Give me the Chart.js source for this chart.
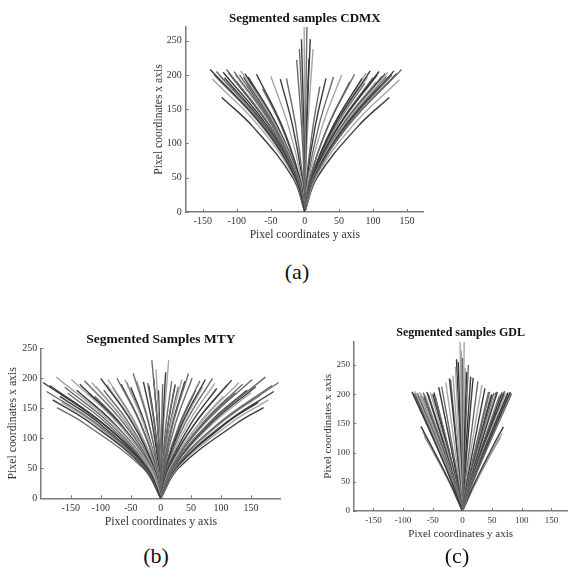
<!DOCTYPE html>
<html><head><meta charset="utf-8">
<script src="https://cdn.jsdelivr.net/npm/chart.js@4.4.1/dist/chart.umd.min.js"></script>
<style>
body{margin:0;background:#fff;width:568px;height:581px;position:relative;overflow:hidden;}
canvas{position:absolute;}
.lab{position:absolute;font-family:'Liberation Serif','Times New Roman',serif;font-size:22px;color:#111;transform:translate(-50%,-50%);line-height:1;white-space:nowrap;}
</style></head><body>
<canvas id="ca" width="284" height="245" style="left:140px;top:0px"></canvas>
<canvas id="cb" width="281" height="210" style="left:0px;top:320px"></canvas>
<canvas id="cc" width="258" height="235" style="left:310px;top:310px"></canvas>
<div class="lab" style="left:297px;top:272px">(a)</div>
<div class="lab" style="left:156px;top:556px">(b)</div>
<div class="lab" style="left:457px;top:556px">(c)</div>
<script>
// Each curve: origin, x read where it crosses lowY, x read where it crosses highY, end point.
// (a) CDMX
const cdmxLowY = 50, cdmxHighY = 125;
const cdmxEndX = [-139,-136,-122,-130,-126,-120,-115,-112,-108,-104,-100,-96,-94,-90,-86,-83,-76,-71,-62,-50,-36,-27, -8,-5,-1,3,8,12,-12,6, 142,139,124,131,128,122,118,113,109,104,100,96,92,88,84,80,73,66,54,42,31,22, -133,-118,-102,-88,135,120,106,90];
const cdmxEndY = [208,194,167,205,200,204,208,203,198,205,190,200,206,197,186,197,185,201,180,198,194,195, 238,252,270,270,252,238,222,224, 208,193,167,206,200,204,202,198,205,190,196,206,197,188,195,183,201,190,200,197,195,183, 200,196,200,202,202,198,200,203];
const cdmxLowX = [-14.2,-15.5,-17.7,-13.6,-13.7,-12.7,-11.8,-11.9,-11.9,-10.9,-11.8,-10.5,-9.8,-10,-10.5,-9.3,-9.4,-7.7,-8,-5.5,-4.1,-3.1, -0.66,-0.38,-0.07,0.2,0.6,1,-1.1,0.54, 14.5,16,18,13.6,13.9,12.9,12.6,12.5,11.4,12.3,11.2,10,10.3,10.6,9.5,10,7.9,7.8,5.9,4.7,3.5,2.8, -14.5,-13.3,-11.1,-9.4,14.5,13.3,11.5,9.6];
const cdmxHighX = [-61.6,-67.3,-76.7,-58.9,-59.4,-54.8,-50.9,-51.6,-51.7,-47.1,-51.2,-45.3,-42.3,-43.5,-45.5,-40.1,-40.6,-33.2,-34.6,-24,-17.8,-13.3, -2.9,-1.6,-0.3,0.9,2.6,4.3,-4.8,2.4, 62.9,69.4,78,58.9,60.3,55.7,54.8,54.1,49.4,53.2,48.7,43.2,44.4,45.8,41.2,43.5,34.1,33.8,25.5,20.3,15.2,12, -62.7,-57.5,-48.1,-40.8,62.7,57.5,50,41.4];
const cdmxShade = [0,2,0,1,2,0,1,0,2,1,0,1,2,0,1,0,2,0,1,2,0,1, 1,0,2,1,0,2,1,0, 1,2,0,0,1,2,0,1,0,2,1,0,2,1,0,2,1,0,2,1,0,1, 1,0,2,0,0,1,0,2];

// (b) MTY
const mtyLowY = 50, mtyHighY = 125;
const mtyEndX = [-196,-190,-180,-173,-174,-168,-160,-149,-140,-127,-120,-115,-108,-100,-95,-88,-80,-73,-66,-60,-57,-50,-46,-40,-29,-22, -15,-12,-8,-4,3,8,13,18,-20,22, 196,188,179,171,174,166,158,152,143,130,124,118,110,104,93,86,74,70,65,58,46,40,35,29,24,52, -185,-165,-155,-135,-110,-90,185,162,150,136,112,90];
const mtyEndY = [193,178,164,151,202,170,185,198,180,196,175,193,186,200,180,198,185,200,190,198,194,185,208,196,194,192, 230,200,215,180,190,210,230,195,188,182, 193,178,164,151,202,172,186,198,180,193,176,197,189,170,183,200,198,186,196,180,208,195,198,186,190,200, 188,160,175,190,170,190,188,160,176,190,168,192];
const mtyLowX = [-22.6,-24.9,-26.9,-29.5,-18.7,-23.7,-19.7,-16.5,-18,-14.3,-16.2,-13.2,-13.2,-10.9,-12.2,-9.7,-9.9,-7.9,-7.8,-6.6,-6.5,-6.2,-4.7,-4.5,-3.3,-2.6, -1.3,-1.3,-0.8,-0.5,0.35,0.8,1.1,2,-2.4,2.8, 22.6,24.6,26.7,29.2,18.7,23,19.3,16.8,18.4,15,16.6,13.2,13.1,14.7,11.7,9.4,8.2,8.6,7.3,7.5,4.7,4.5,3.9,3.5,2.8,5.7, -22.3,-25.7,-20.9,-15.9,-15.5,-10.6,22.3,25.2,20,16.1,16.1,10.5];
const mtyHighX = [-97.8,-107.9,-116.6,-127.8,-80.8,-102.7,-85.5,-71.4,-78.1,-61.8,-70,-57.4,-57.2,-47.1,-53,-42.2,-42.7,-34.4,-33.8,-28.7,-28.2,-26.7,-20.4,-19.5,-14.4,-11.1, -5.7,-5.7,-3.4,-2.2,1.5,3.5,4.9,8.8,-10.4,12.1, 97.8,106.8,115.9,126.4,80.8,99.6,83.7,72.8,79.8,64.9,71.7,57,56.8,63.6,50.5,40.5,35.4,37.1,31.6,32.4,20.4,19.6,16.8,15.4,12.3,24.5, -96.3,-111.2,-90.5,-69.1,-67.3,-46.1,96.3,109.1,86.8,69.6,69.8,45.3];
const mtyShade = [0,1,0,1,2,0,1,2,0,1,0,2,1,0,1,2,0,1,0,2,1,0,1,2,0,1, 1,0,2,0,1,0,2,1,0,1, 1,0,2,0,1,2,0,1,0,2,1,0,1,2,0,1,0,2,1,0,1,0,2,1,0,1, 0,2,1,0,1,2,1,0,2,1,0,2];

// (c) GDL
const gdlLowY = 50, gdlHighY = 110;
const gdlEndX = [-85,-83,-80,-78,-76,-74,-72,-70,-68,-66,-63,-60,-57,-54,-50,-46,-70,-67,-64,-60,-40,-35,-28,-22, -12,-7,-4,0,3,7,10,-16,14,-2, 83,81,79,77,75,73,71,69,67,65,62,59,56,53,50,46,69,67,64,60,44,38,33,26, -82,-79,-71,-65,-58,-48,80,76,70,63,57,48,-10,5,-20,18];
const gdlEndY = [204,200,205,198,202,196,204,200,195,203,199,204,198,203,200,197,145,136,128,160,212,213,220,227, 247,255,290,262,290,238,250,232,230,275, 201,204,199,203,197,202,205,198,203,200,196,204,199,202,200,204,144,133,126,158,204,210,216,222, 202,200,198,196,201,203,202,200,201,199,203,198,260,245,225,228];
const gdlLowX = [-18.3,-18,-17.2,-17.2,-16.4,-16.3,-15.5,-15.3,-15,-14.2,-13.7,-12.9,-12.5,-11.6,-10.9,-10,-21.7,-22.3,-22.7,-16.7,-8.2,-7.1,-5.5,-4.2, -2.1,-1.2,-0.6,0,0.4,1.3,1.7,-3,2.6,-0.3, 18,17.4,17.2,16.6,16.4,15.8,15.2,15,14.4,14.2,13.6,12.7,12.2,11.4,10.9,9.9,21.5,22.7,23.2,16.9,9.5,7.9,6.7,5.1, -17.7,-17.2,-15.6,-14.5,-12.6,-10.3,17.3,16.6,15.2,13.8,12.3,10.6,-1.6,0.9,-3.8,3.4];
const gdlHighX = [-43,-43,-40.5,-40.9,-38.9,-39.1,-36.5,-36.3,-36.2,-33.6,-32.7,-30.4,-29.7,-27.5,-25.9,-24,-51.7,-53,-54,-39.7,-19.4,-17,-13,-9.9, -4.9,-2.8,-1.4,0,1,3,4,-7,6.2,-0.7, 43,41,40.8,39,39.5,37.3,35.8,35.6,34,33.7,32.8,29.9,28.9,27,25.9,23.3,51,53.8,54.7,40,22.3,18.7,15.2,12.1, -42.1,-40.9,-37.1,-34.4,-29.9,-24.5,41,39.4,36.1,32.8,29.1,25.1,-3.9,2.1,-9.1,8.1];
const gdlShade = [0,1,2,0,1,0,2,1,0,1,2,0,1,2,0,1,0,2,1,2,0,1,2,0, 2,0,2,1,2,0,1,2,0,2, 1,0,2,0,1,2,0,1,0,2,1,0,2,1,0,1,0,2,1,2,1,0,2,1, 1,0,2,0,1,0,0,1,0,2,0,1,0,2,1,0];

const tickValues = [-150,-100,-50,0,50,100,150];
const yTickValues = [0,50,100,150,200,250];

const shades = ['#3a3a3a','#6b6b6b','#a6a6a6'];
const SERIF = "'Liberation Serif','Times New Roman',serif";
const AXIS = '#7a7a7a';

function curves(endX, endY, lowX, highX, lowY, highY, shade) {
  return endX.map((ex, i) => ({
    data: [{x:0,y:0},{x:lowX[i],y:lowY},{x:highX[i],y:highY},{x:ex,y:endY[i]}],
    borderColor: shades[shade[i]], borderWidth: 1.4,
    pointRadius: 0, showLine: true, tension: 0.4, fill: false
  }));
}

const inTicks = {
  id: 'inTicks',
  afterDraw(chart) {
    const {ctx, chartArea: a, scales: {x, y}} = chart;
    ctx.save(); ctx.strokeStyle = AXIS; ctx.lineWidth = 1;
    x.ticks.forEach(t => { const p = Math.round(x.getPixelForValue(t.value)) + 0.5;
      ctx.beginPath(); ctx.moveTo(p, a.bottom); ctx.lineTo(p, a.bottom - 3); ctx.stroke(); });
    y.ticks.forEach(t => { const p = Math.round(y.getPixelForValue(t.value)) + 0.5;
      ctx.beginPath(); ctx.moveTo(a.left, p); ctx.lineTo(a.left + 3, p); ctx.stroke(); });
    ctx.restore();
  }
};

function makeChart(id, datasets, c) {
  new Chart(document.getElementById(id), {
    type: 'scatter',
    data: { datasets },
    plugins: [inTicks],
    options: {
      responsive: false, animation: false, devicePixelRatio: 1,
      layout: { padding: 0 },
      plugins: {
        legend: { display: false }, tooltip: { enabled: false },
        title: { display: true, text: c.title, fullSize: false, color: '#111',
          font: { family: SERIF, size: c.titleSize, weight: 'bold' },
          padding: { top: c.titlePadTop, bottom: c.titlePadBottom } }
      },
      scales: {
        x: {
          type: 'linear', min: c.xmin, max: c.xmax,
          ticks: { stepSize: 50, autoSkip: false, maxRotation: 0, color: '#333',
            font: { family: SERIF, size: c.tickSize }, padding: c.xTickPad },
          afterBuildTicks: s => { s.ticks = tickValues.map(v => ({value: v})); },
          afterFit: s => { s.height = c.xHeight; },
          grid: { display: false, drawTicks: false },
          border: { display: true, color: AXIS, width: 1.5 },
          title: { display: true, text: 'Pixel coordinates y axis', color: '#333',
            font: { family: SERIF, size: c.axisTitleSize }, padding: { top: 0, bottom: c.xTitlePad } }
        },
        y: {
          type: 'linear', min: 0, max: c.ymax,
          ticks: { stepSize: 50, autoSkip: false, color: '#333',
            font: { family: SERIF, size: c.tickSize }, padding: c.yTickPad },
          afterBuildTicks: s => { s.ticks = yTickValues.map(v => ({value: v})); },
          afterFit: s => { s.width = c.yWidth; },
          grid: { display: false, drawTicks: false },
          border: { display: true, color: AXIS, width: 1.5 },
          title: { display: true, text: 'Pixel coordinates x axis', color: '#333',
            font: { family: SERIF, size: c.axisTitleSize }, padding: { top: c.yTitlePad, bottom: 0 } }
        }
      }
    }
  });
}

makeChart('ca', curves(cdmxEndX, cdmxEndY, cdmxLowX, cdmxHighX, cdmxLowY, cdmxHighY, cdmxShade), {
  title: 'Segmented samples CDMX', titleSize: 13, titlePadTop: 10.5, titlePadBottom: 0.9,
  xmin: -175, xmax: 175, ymax: 270, tickSize: 10, xTickPad: 3.7, yTickPad: 4,
  axisTitleSize: 11.6, xTitlePad: 2.7, yTitlePad: 12.3, yWidth: 45.7, xHeight: 33
});
makeChart('cb', curves(mtyEndX, mtyEndY, mtyLowX, mtyHighX, mtyLowY, mtyHighY, mtyShade), {
  title: 'Segmented Samples MTY', titleSize: 13.5, titlePadTop: 11.9, titlePadBottom: 0.2,
  xmin: -200, xmax: 200, ymax: 250, tickSize: 10, xTickPad: 4, yTickPad: 3.4,
  axisTitleSize: 11.8, xTitlePad: 0.9, yTitlePad: 6.3, yWidth: 40.7, xHeight: 31.7
});
makeChart('cc', curves(gdlEndX, gdlEndY, gdlLowX, gdlHighX, gdlLowY, gdlHighY, gdlShade), {
  title: 'Segmented samples GDL', titleSize: 12, titlePadTop: 16.1, titlePadBottom: 1.2,
  xmin: -184, xmax: 178, ymax: 290, tickSize: 9, xTickPad: 4.3, yTickPad: 3.3,
  axisTitleSize: 11, xTitlePad: 4.4, yTitlePad: 11.7, yWidth: 43.3, xHeight: 34
});
</script>
</body></html>
